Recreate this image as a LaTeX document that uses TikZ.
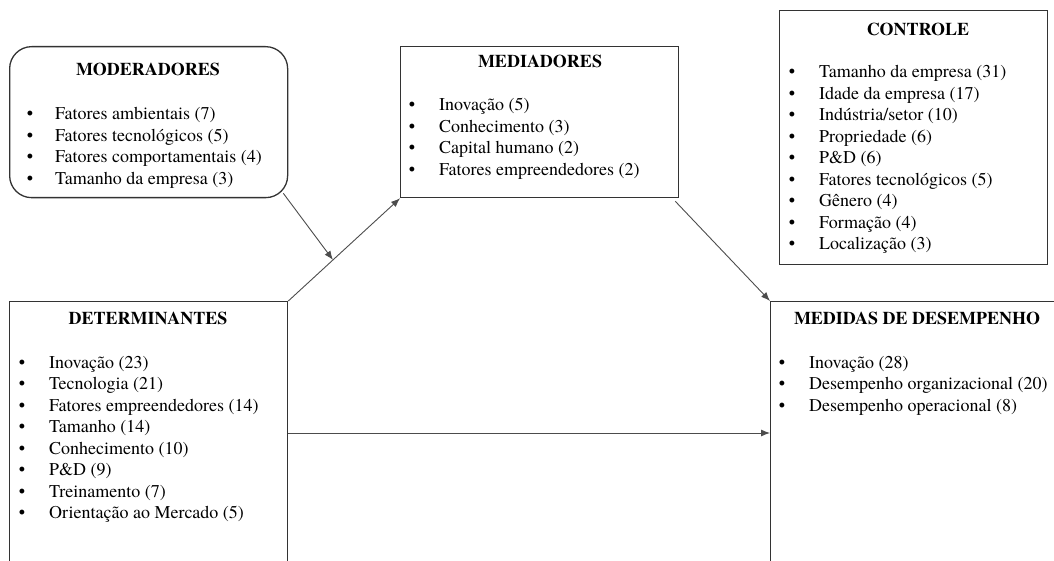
\documentclass[tikz,border=0pt]{standalone}
\usepackage{fontspec}
\setmainfont{texgyretermes}[Extension=.otf,UprightFont=*-regular,BoldFont=*-bold,ItalicFont=*-italic,BoldItalicFont=*-bolditalic]
\usetikzlibrary{arrows.meta,calc}
\begin{document}
\begin{tikzpicture}[x=1pt,y=-1pt,
  box/.style={draw=black!80,line width=1.3pt,inner sep=0pt,anchor=north west},
  ttl/.style={font=\fontsize{18}{21.5}\selectfont\bfseries,inner sep=0pt,anchor=base},
  bul/.style={font=\fontsize{18}{21.5}\selectfont,inner sep=0pt,anchor=base},
  itm/.style={font=\fontsize{18}{21.5}\selectfont,inner sep=0pt,anchor=base west},
  conn/.style={draw=black!70,line width=0.9pt,-{Latex[length=9pt,width=7pt]}}]
\useasboundingbox (0,0) rectangle (1054,561);
\clip (0,0) rectangle (1054,561);
% boxes
\node[box,rounded corners=22pt,minimum width=278pt,minimum height=151pt] (mod) at (9,46) {};
\node[box,minimum width=278pt,minimum height=151pt] (medi) at (400,46) {};
\node[box,minimum width=268pt,minimum height=254pt] (ctl) at (779,10) {};
\node[box,minimum width=278pt,minimum height=300pt] (det) at (9,301) {};
\node[box,minimum width=300pt,minimum height=300pt] (perf) at (770,301) {};
% titles
\node[ttl] (mod-t) at (148,76) {MODERADORES};
\node[ttl] (medi-t) at (540,68) {MEDIADORES};
\node[ttl] (ctl-t) at (918,36) {CONTROLE};
\node[ttl] (det-t) at (148,324) {DETERMINANTES};
\node[ttl] (perf-t) at (917,324) {MEDIDAS DE DESEMPENHO};
% lists
\foreach \txt [count=\i] in {Fatores ambientais (7),Fatores tecnológicos (5),Fatores comportamentais (4),Tamanho da empresa (3)}{
  \node[bul] (mod-b\i) at (30,{98.5+21.5*\i}) {•};
  \node[itm] (mod-\i) at (55,{98.5+21.5*\i}) {\txt};}
\foreach \txt [count=\i] in {Inovação (5),Conhecimento (3),Capital humano (2),Fatores empreendedores (2)}{
  \node[bul] (medi-b\i) at (412,{89.5+21.5*\i}) {•};
  \node[itm] (medi-\i) at (439,{89.5+21.5*\i}) {\txt};}
\foreach \txt [count=\i] in {Tamanho da empresa (31),Idade da empresa (17),Indústria/setor (10),Propriedade (6),P\&D (6),Fatores tecnológicos (5),Gênero (4),Formação (4),Localização (3)}{
  \node[bul] (ctl-b\i) at (792,{56.5+21.5*\i}) {•};
  \node[itm] (ctl-\i) at (819,{56.5+21.5*\i}) {\txt};}
\foreach \txt [count=\i] in {Inovação (23),Tecnologia (21),Fatores empreendedores (14),Tamanho (14),Conhecimento (10),P\&D (9),Treinamento (7),Orientação ao Mercado (5)}{
  \node[bul] (det-b\i) at (22,{346.5+21.5*\i}) {•};
  \node[itm] (det-\i) at (49,{346.5+21.5*\i}) {\txt};}
\foreach \txt [count=\i] in {Inovação (28),Desempenho organizacional (20),Desempenho operacional (8)}{
  \node[bul] (perf-b\i) at (782,{346.5+21.5*\i}) {•};
  \node[itm] (perf-\i) at (809,{346.5+21.5*\i}) {\txt};}
% connectors
\coordinate (m) at ($(det.north east)!0.4!(medi.south west)$);
\draw[conn] (det.north east) -- (medi.south west);
\draw[conn] ($(mod.south east)+(-5,-5)$) -- (m);
\draw[conn] ($(medi.south east)+(-4,3)$) -- (perf.north west);
\draw[conn] (det.east |- 0,433) coordinate (h1) -- (perf.west |- h1);
\end{tikzpicture}
\end{document}
